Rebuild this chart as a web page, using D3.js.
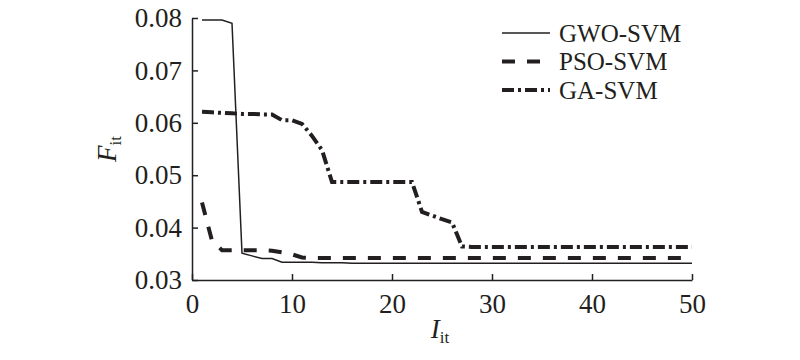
<!DOCTYPE html>
<html><head><meta charset="utf-8">
<script src="https://cdn.jsdelivr.net/npm/d3@7"></script>
<style>body{margin:0;background:#fff}svg{display:block}text{font-family:"Liberation Serif","Times New Roman",serif;fill:#231f20}</style>
</head><body><svg id="c" width="800" height="360"></svg>
<script>
const iterations = d3.range(1, 51);
const gwo = [0.0796,0.0796,0.0796,0.0790,0.0351,0.0346,0.0341,0.0341,0.0334,0.0334,
  0.0334,0.0334,0.0333,0.0333,0.0333,0.0332,0.0332,0.0332,0.0332,0.0332,
  0.0332,0.0332,0.0332,0.0332,0.0332,0.0332,0.0332,0.0332,0.0332,0.0332,
  0.0332,0.0332,0.0332,0.0332,0.0332,0.0332,0.0332,0.0332,0.0332,0.0332,
  0.0332,0.0332,0.0332,0.0332,0.0332,0.0332,0.0332,0.0332,0.0332,0.0332];
const pso = [0.0448,0.0375,0.0357,0.0357,0.0357,0.0357,0.0357,0.0356,0.0353,0.0349,
  0.0343,0.0342,0.0342,0.0342,0.0342,0.0342,0.0342,0.0342,0.0342,0.0342,
  0.0342,0.0342,0.0342,0.0342,0.0342,0.0342,0.0342,0.0342,0.0342,0.0342,
  0.0342,0.0342,0.0342,0.0342,0.0342,0.0342,0.0342,0.0342,0.0342,0.0342,
  0.0342,0.0342,0.0342,0.0342,0.0342,0.0342,0.0342,0.0342,0.0342,0.0342];
const ga = [0.0621,0.0620,0.0619,0.0618,0.0617,0.0617,0.0616,0.0616,0.0605,0.0605,
  0.0598,0.0575,0.0548,0.0487,0.0487,0.0487,0.0487,0.0487,0.0487,0.0487,
  0.0487,0.0487,0.0430,0.0423,0.0416,0.0410,0.0364,0.0363,0.0363,0.0363,
  0.0363,0.0363,0.0363,0.0363,0.0363,0.0363,0.0363,0.0363,0.0363,0.0363,
  0.0363,0.0363,0.0363,0.0363,0.0363,0.0363,0.0363,0.0363,0.0363,0.0363];
const seriesNames = ["GWO-SVM","PSO-SVM","GA-SVM"];
const xTicks = [0,10,20,30,40,50];
const yTicks = [0.03,0.04,0.05,0.06,0.07,0.08];

const svg = d3.select("#c");
const ink = "#231f20";
const x = d3.scaleLinear().domain([0,50]).range([192,692]);
const y = d3.scaleLinear().domain([0.03,0.08]).range([280,18]);

const gx = svg.append("g").attr("transform","translate(0,280)")
  .call(d3.axisBottom(x).tickValues(xTicks).tickFormat(d3.format("d")).tickSize(-6).tickSizeOuter(0).tickPadding(14));
const gy = svg.append("g").attr("transform","translate(192,0)")
  .call(d3.axisLeft(y).tickValues(yTicks).tickFormat(d3.format(".2f")).tickSize(-6).tickSizeOuter(0).tickPadding(10));
[gx,gy].forEach(g=>{
  g.selectAll("path,line").attr("stroke",ink).attr("stroke-width",1.5);
  g.selectAll("text").attr("font-size",27).attr("font-family","Liberation Serif, serif").attr("fill",ink);
});

const styles = [
  {data:gwo, w:1.5, dash:null},
  {data:pso, w:4, dash:"13,12"},
  {data:ga, w:4, dash:"12,4,3,4"}
];
const line = d3.line().x((d,i)=>x(iterations[i])).y(d=>y(d));
styles.forEach(s=>{
  svg.append("path").datum(s.data).attr("d",line).attr("fill","none")
    .attr("stroke",ink).attr("stroke-width",s.w).attr("stroke-dasharray",s.dash);
});

// legend
const lg = svg.append("g");
const rows = [33,61.5,90];
seriesNames.forEach((n,i)=>{
  lg.append("line").attr("x1",502).attr("x2",550).attr("y1",rows[i]).attr("y2",rows[i])
    .attr("stroke",ink).attr("stroke-width",styles[i].w)
    .attr("stroke-dasharray", styles[i].dash);
  lg.append("text").attr("x",559).attr("y",rows[i]).attr("dy","0.34em")
    .attr("font-size",25).attr("textLength",null).text(n);
});

// axis titles
const yt = svg.append("text").attr("transform","translate(116,149) rotate(-90)")
  .attr("text-anchor","middle");
yt.append("tspan").attr("font-style","italic").attr("font-size",27).text("F");
yt.append("tspan").attr("font-size",17).attr("dy",5).text("it");

const xt = svg.append("text").attr("x",440).attr("y",338).attr("text-anchor","middle");
xt.append("tspan").attr("font-style","italic").attr("font-size",27).text("I");
xt.append("tspan").attr("font-size",17).attr("dy",5).text("it");
</script></body></html>
